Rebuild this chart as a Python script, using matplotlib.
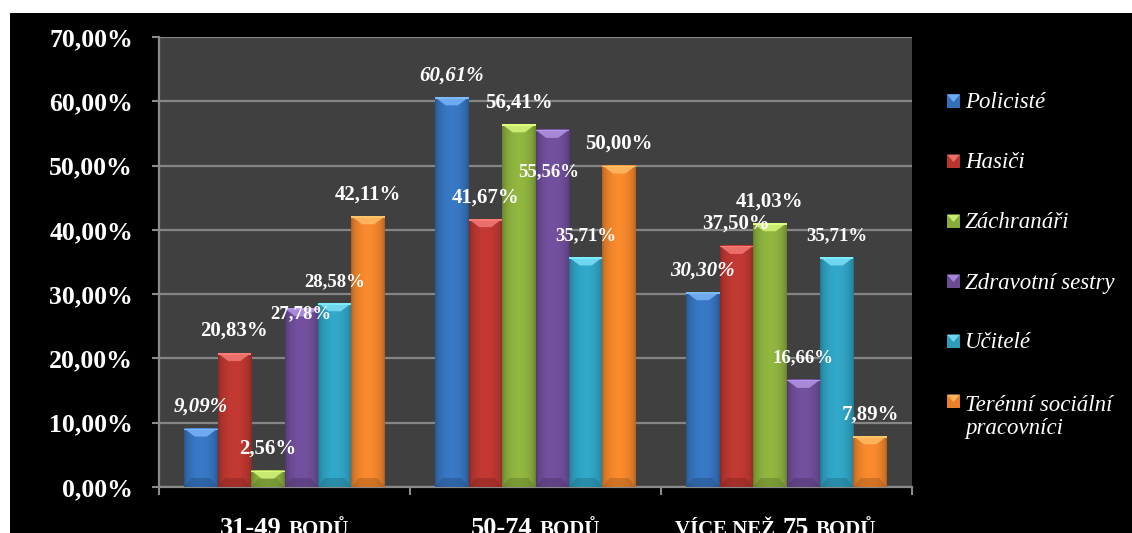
import numpy as np
import matplotlib
matplotlib.use("Agg")
import matplotlib.pyplot as plt
from matplotlib.patches import Polygon, Rectangle
from matplotlib.ticker import FuncFormatter
from matplotlib.colors import to_rgb

plt.rcParams['font.family'] = ['Liberation Serif', 'DejaVu Serif']

# ---- data -------------------------------------------------------------
groups = ["31-49 BODŮ", "50-74 BODŮ", "VÍCE NEŽ 75 BODŮ"]
# each group label split into (text, size-class) pieces (small caps look)
group_label_parts = [
    [("31-49", "big"), ("BODŮ", "small")],
    [("50-74", "big"), ("BODŮ", "small")],
    [("VÍCE NEŽ", "small"), ("75", "big"), ("BODŮ", "small")],
]
series = ["Policisté", "Hasiči", "Záchranáři", "Zdravotní sestry", "Učitelé",
          "Terénní sociální\npracovníci"]
policiste = [9.09, 60.61, 30.30]
hasici = [20.83, 41.67, 37.50]
zachranari = [2.56, 56.41, 41.03]
zdravotni_sestry = [27.78, 55.56, 16.66]
ucitele = [28.58, 35.71, 35.71]
terenni_socialni = [42.11, 50.00, 7.89]
values = [policiste, hasici, zachranari, zdravotni_sestry, ucitele, terenni_socialni]
y_ticks = [0, 10, 20, 30, 40, 50, 60, 70]

# ---- styling ------------------------------------------------------------
body_colors = ["#3470B8", "#B5352F", "#87AA3B", "#6B4B94", "#2E9CBB", "#E8802A"]
top_colors = ["#6FAAF0", "#EA6E6A", "#C9EA70", "#A888D8", "#70D6F0", "#FFB25C"]
label_sizes = [15, 15, 15, 13.5, 13.5, 15]
label_styles = ["italic", "normal", "normal", "normal", "normal", "normal"]
# hand-placed data labels (pixel offsets from the bar top)
label_offsets = {(3, 0): (0, -5), (3, 1): (-4, -42)}

W, H = 1132, 533
fig = plt.figure(figsize=(W / 100, H / 100), dpi=100, facecolor="white")
fig.add_artist(Rectangle((10 / W, 0), 1 - 10 / W, 1 - 13 / H,
                         transform=fig.transFigure, facecolor="black",
                         edgecolor="none", zorder=-10))

ax_left, ax_bottom, ax_w, ax_h = 159, 46, 753, 450
ax = fig.add_axes([ax_left / W, ax_bottom / H, ax_w / W, ax_h / H])
ax.set_facecolor("#404040")
ax.set_xlim(-0.5, 2.5)
ax.set_ylim(0, 70)
px_y = ax_h / 70.0

n = len(series)
bw = 0.8 / n
x = np.arange(len(groups))


def shade(c, f):
    return tuple(np.clip(np.array(to_rgb(c)) * f, 0, 1))


cols = 64
t = np.linspace(0, 1, cols)
profile = 0.74 + 0.34 * np.sin(np.pi * t) ** 0.5

for k in range(n):
    xs = x - 0.4 + bw * (k + 0.5)
    bars = ax.bar(xs, values[k], width=bw, color=body_colors[k], zorder=3,
                  linewidth=0)
    base = np.array(to_rgb(body_colors[k]))
    img = np.clip(base[None, None, :] * profile[None, :, None], 0, 1)
    for j, b in enumerate(bars):
        x0, w, h = b.get_x(), b.get_width(), b.get_height()
        xc = x0 + w / 2
        ax.imshow(img, extent=(x0, x0 + w, 0, h), aspect="auto",
                  interpolation="bilinear", zorder=3.1, clip_path=b)
        by = min(8 / px_y, h / 2)
        ax.add_patch(Polygon([(x0, h), (x0 + w, h), (xc + w * 0.18, h - by),
                              (xc - w * 0.18, h - by)], closed=True,
                             facecolor=top_colors[k], edgecolor="none",
                             zorder=3.2))
        ax.add_patch(Polygon([(x0, h), (x0 + w, h), (x0 + w, h - 1.5 / px_y),
                              (x0, h - 1.5 / px_y)], closed=True,
                             facecolor=shade(top_colors[k], 1.1),
                             edgecolor="none", zorder=3.3))
        bb = min(9 / px_y, h / 2)
        ax.add_patch(Polygon([(x0, 0), (x0 + w, 0), (xc + w * 0.28, bb),
                              (xc - w * 0.28, bb)], closed=True,
                             facecolor=shade(body_colors[k], 0.7), alpha=0.45,
                             edgecolor="none", zorder=3.2))
        dx, dy = label_offsets.get((k, j), (0, 22))
        txt = f"{h:.2f}".replace(".", ",") + "%"
        ax.annotate(txt, (xc, h), xytext=(dx, dy), textcoords="offset pixels",
                    ha="center", va="center", color="white",
                    fontsize=label_sizes[k], fontweight="bold",
                    fontstyle=label_styles[k], zorder=6)

ax.set_xlim(-0.5, 2.5)
ax.set_ylim(0, 70)

# ---- axes ---------------------------------------------------------------
ax.set_yticks(y_ticks)
ax.yaxis.set_major_formatter(FuncFormatter(
    lambda v, p: f"{v:.2f}".replace(".", ",") + "%"))
ax.tick_params(axis="y", colors="#8A8A8A", labelcolor="white",
               length=7 * 0.72, width=1.5, pad=19 * 0.72, labelsize=18.5)
for lbl in ax.get_yticklabels():
    lbl.set_fontweight("bold")
ax.set_xticks([-0.5, 0.5, 1.5, 2.5])
ax.set_xticklabels([])
ax.tick_params(axis="x", colors="#8A8A8A", length=8 * 0.72, width=1.5)
ax.set_axisbelow(True)
ax.yaxis.grid(True, color="#858585", linewidth=1.6)
for side in ("top", "right"):
    ax.spines[side].set_visible(False)
for side in ("left", "bottom"):
    ax.spines[side].set_color("#8A8A8A")
    ax.spines[side].set_linewidth(1.6)

# ---- group labels (mixed sizes, small caps look) -------------------------
renderer = fig.canvas.get_renderer()
sizes = {"big": 19, "small": 15}
gap = 0.25 * 19 / 0.72
group_shift = [0, 0, -11]
baseline_y = (H - 535) / H
for i, parts in enumerate(group_label_parts):
    texts = [fig.text(0, baseline_y, s, fontsize=sizes[c], fontweight="bold",
                      color="white", ha="left", va="baseline")
             for s, c in parts]
    widths = [tt.get_window_extent(renderer).width for tt in texts]
    total = sum(widths) + gap * (len(texts) - 1)
    cx = ax.transData.transform((i, 0))[0] + group_shift[i]
    xpos = cx - total / 2
    for tt, wdt in zip(texts, widths):
        tt.set_x(xpos / W)
        xpos += wdt + gap

# ---- legend -------------------------------------------------------------
line_pitch = 25.5
for k, name in enumerate(series):
    yb = 108.5 + 60 * k
    mx0, msz = 947, 13
    myc = yb - 7.5
    fig.add_artist(Rectangle((mx0 / W, (H - myc - msz / 2) / H), msz / W,
                             msz / H, transform=fig.transFigure,
                             facecolor=body_colors[k], edgecolor="none"))
    fig.add_artist(Polygon([(mx0 / W, (H - myc + msz / 2) / H),
                            ((mx0 + msz) / W, (H - myc + msz / 2) / H),
                            ((mx0 + msz / 2) / W, (H - myc - 1) / H)],
                           closed=True, transform=fig.transFigure,
                           facecolor=top_colors[k], edgecolor="none"))
    # baseline alignment follows the last line, so drop multi-line labels
    last_baseline = yb + line_pitch * name.count("\n")
    fig.text(965 / W, (H - last_baseline) / H, name, fontsize=16.5,
             fontstyle="italic", color="white", ha="left", va="baseline",
             linespacing=1.15)

fig.savefig("out.png", dpi=100, facecolor=fig.get_facecolor())
